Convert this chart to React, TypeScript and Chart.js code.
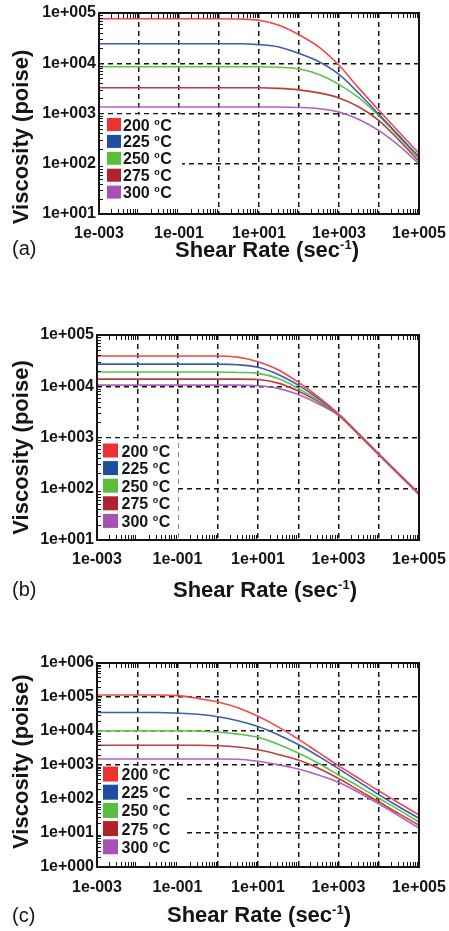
import React, { useEffect, useRef } from "react";
import { Chart, registerables } from "chart.js";

Chart.register(...registerables);

// ---------- data ----------
const shearRates = [0.001, 0.00316, 0.01, 0.0316, 0.1, 0.316, 1, 3.16, 10, 31.6, 100, 316, 1000, 3160, 10000, 31600, 100000];
const tempLabels = ["200", "225", "250", "275", "300"];
const lineColors = ["#f24848", "#3d5db0", "#5cc24a", "#c03c3c", "#b062c0"];
const boxColors = ["#ee3232", "#1d4ea2", "#58be3c", "#b0222c", "#a452b4"];

const xTickValues = [0.001, 0.01, 0.1, 1, 10, 100, 1000, 10000, 100000];
const xTickLabels = ["1e-003", "", "1e-001", "", "1e+001", "", "1e+003", "", "1e+005"];

const yTickValuesAB = [10, 100, 1000, 10000, 100000];
const yTickLabelsAB = ["1e+001", "1e+002", "1e+003", "1e+004", "1e+005"];
const yTickValuesC = [1, 10, 100, 1000, 10000, 100000, 1000000];
const yTickLabelsC = ["1e+000", "1e+001", "1e+002", "1e+003", "1e+004", "1e+005", "1e+006"];

// panel (a)
const a200 = [77000, 77000, 77000, 77000, 77000, 77000, 77000, 76000, 72000, 57000, 37000, 21000, 9100, 3160, 1150, 427, 162];
const a225 = [24500, 24500, 24500, 24500, 24500, 24500, 24500, 24500, 23500, 21000, 15600, 10700, 6000, 2500, 955, 363, 138];
const a250 = [8500, 8500, 8500, 8500, 8500, 8500, 8500, 8500, 8500, 8300, 7700, 6000, 3800, 2040, 890, 340, 126];
const a275 = [3250, 3250, 3250, 3250, 3250, 3250, 3250, 3250, 3250, 3160, 2950, 2570, 2040, 1350, 725, 295, 112];
const a300 = [1350, 1350, 1350, 1350, 1350, 1350, 1350, 1350, 1350, 1350, 1320, 1245, 1070, 760, 457, 229, 100];

// panel (b)
const b200 = [39000, 39000, 39000, 39000, 39000, 39000, 39000, 37000, 30000, 21000, 12000, 6200, 2900, 1190, 480, 197, 81];
const b225 = [27000, 27000, 27000, 27000, 27000, 27000, 27000, 26300, 23400, 17000, 10500, 5750, 2850, 1175, 475, 195, 80];
const b250 = [19000, 19000, 19000, 19000, 19000, 19000, 19000, 18600, 17800, 14100, 9100, 5250, 2800, 1160, 470, 193, 79];
const b275 = [13800, 13800, 13800, 13800, 13800, 13800, 13800, 13800, 13500, 11500, 8100, 5000, 2750, 1150, 465, 191, 78];
const b300 = [10500, 10500, 10500, 10500, 10500, 10500, 10500, 10500, 10200, 9100, 6900, 4570, 2700, 1130, 460, 189, 77];

// panel (c)
const c200 = [115000, 115000, 115000, 115000, 110000, 91000, 71000, 48000, 27000, 13200, 5750, 2350, 955, 407, 174, 76, 34];
const c225 = [35000, 35000, 35000, 35000, 33500, 31000, 26300, 20000, 13500, 7800, 4000, 1820, 780, 325, 135, 59, 27];
const c250 = [10200, 10200, 10200, 10200, 10200, 10000, 9300, 8100, 6500, 4100, 2240, 1120, 510, 235, 105, 48, 21];
const c275 = [3800, 3800, 3800, 3800, 3800, 3800, 3700, 3400, 2800, 2050, 1400, 800, 400, 182, 83, 37, 17];
const c300 = [1500, 1500, 1500, 1500, 1500, 1500, 1500, 1480, 1290, 1020, 760, 510, 310, 155, 72, 32, 14];

const FONT = "'Liberation Sans', Arial, Helvetica, sans-serif";
const INK = "#151515";

type PanelCfg = {
  letter: string;
  top: number;
  height: number;
  plotTop: number;
  plotBottom: number;
  plotLeft: number;
  yMin: number;
  yMax: number;
  yTicks: number[];
  yLabels: string[];
  series: number[][];
  legendWidth: number;
  legendRow0: number;
  legendStep: number;
  legendBoxX: number;
  legendBoxW: number;
  legendBoxH: number;
  legendTextX: number;
  yTitleCenter: number;
  xTitleX: number;
  xTitleBase: number;
  letterBase: number;
  xLabelLH: number;
};

const panels: PanelCfg[] = [
  {
    letter: "(a)", top: 0, height: 300, plotTop: 13, plotBottom: 214, plotLeft: 99,
    yMin: 10, yMax: 100000, yTicks: yTickValuesAB, yLabels: yTickLabelsAB,
    series: [a200, a225, a250, a275, a300],
    legendWidth: 82, legendRow0: 11, legendStep: 16.9, legendBoxX: 107, legendBoxW: 14, legendBoxH: 13, legendTextX: 123,
    yTitleCenter: 137, xTitleX: 175, xTitleBase: 257, letterBase: 255, xLabelLH: 2.4,
  },
  {
    letter: "(b)", top: 322, height: 300, plotTop: 13, plotBottom: 218, plotLeft: 97,
    yMin: 10, yMax: 100000, yTicks: yTickValuesAB, yLabels: yTickLabelsAB,
    series: [b200, b225, b250, b275, b300],
    legendWidth: 80, legendRow0: 13, legendStep: 17.6, legendBoxX: 103, legendBoxW: 15, legendBoxH: 14, legendTextX: 121.5,
    yTitleCenter: 125.5, xTitleX: 173, xTitleBase: 275, letterBase: 274, xLabelLH: 2.45,
  },
  {
    letter: "(c)", top: 650, height: 281, plotTop: 13, plotBottom: 217, plotLeft: 97,
    yMin: 1, yMax: 1000000, yTicks: yTickValuesC, yLabels: yTickLabelsC,
    series: [c200, c225, c250, c275, c300],
    legendWidth: 86, legendRow0: 9, legendStep: 18.2, legendBoxX: 103, legendBoxW: 15, legendBoxH: 15, legendTextX: 121.5,
    yTitleCenter: 111.7, xTitleX: 167, xTitleBase: 272, letterBase: 272, xLabelLH: 2.55,
  },
];

function makeDecor(cfg: PanelCfg) {
  return {
    id: "decor",
    afterDatasetsDraw(chart: any) {
      const { ctx, chartArea: ca, scales } = chart;
      const xs = scales.x;
      const ys = scales.y;
      ctx.save();

      // legend
      const lgTop = ys.getPixelForValue(1000);
      ctx.fillStyle = "#ffffff";
      ctx.fillRect(ca.left + 1, lgTop + 1, cfg.legendWidth, ca.bottom - lgTop - 1);
      chart.data.datasets.forEach((ds: any, i: number) => {
        const cy = lgTop + cfg.legendRow0 + i * cfg.legendStep;
        ctx.fillStyle = boxColors[i];
        ctx.fillRect(cfg.legendBoxX, cy - cfg.legendBoxH / 2, cfg.legendBoxW, cfg.legendBoxH);
        ctx.fillStyle = INK;
        ctx.textBaseline = "alphabetic";
        ctx.textAlign = "left";
        ctx.font = `bold 16px ${FONT}`;
        const base = cy + 6;
        const t1 = tempLabels[i] + " ";
        ctx.fillText(t1, cfg.legendTextX, base);
        let x = cfg.legendTextX + ctx.measureText(t1).width;
        ctx.font = `bold 9px ${FONT}`;
        ctx.fillText("o", x, base - 6);
        x += ctx.measureText("o").width + 0.5;
        ctx.font = `bold 16px ${FONT}`;
        ctx.fillText("C", x, base);
      });

      // minor ticks (inward) on top, bottom and left edges
      ctx.strokeStyle = INK;
      ctx.lineWidth = 1;
      ctx.setLineDash([]);
      ctx.beginPath();
      for (let d = -3; d < 5; d++) {
        for (let m = 2; m <= 9; m++) {
          const px = Math.round(xs.getPixelForValue(m * Math.pow(10, d))) + 0.5;
          ctx.moveTo(px, ca.top);
          ctx.lineTo(px, ca.top + 5);
          ctx.moveTo(px, ca.bottom);
          ctx.lineTo(px, ca.bottom - 5);
        }
      }
      const dMin = Math.round(Math.log10(cfg.yMin));
      const dMax = Math.round(Math.log10(cfg.yMax));
      for (let d = dMin; d < dMax; d++) {
        for (let m = 2; m <= 9; m++) {
          const py = Math.round(ys.getPixelForValue(m * Math.pow(10, d))) + 0.5;
          ctx.moveTo(ca.left, py);
          ctx.lineTo(ca.left + 4, py);
        }
      }
      ctx.stroke();

      // frame
      ctx.lineWidth = 2;
      ctx.strokeStyle = INK;
      ctx.strokeRect(ca.left, ca.top, ca.right - ca.left, ca.bottom - ca.top);
      ctx.restore();
    },
    afterDraw(chart: any) {
      const { ctx } = chart;
      ctx.save();
      ctx.fillStyle = INK;
      // y title
      ctx.save();
      ctx.translate(28, cfg.yTitleCenter);
      ctx.rotate(-Math.PI / 2);
      ctx.textAlign = "center";
      ctx.textBaseline = "alphabetic";
      ctx.font = `bold 22px ${FONT}`;
      ctx.fillText("Viscosity (poise)", 0, 0);
      ctx.restore();

      // x title with superscript
      ctx.textAlign = "left";
      ctx.textBaseline = "alphabetic";
      ctx.font = `bold 22px ${FONT}`;
      const p1 = "Shear Rate (sec";
      let x = cfg.xTitleX;
      ctx.fillText(p1, x, cfg.xTitleBase);
      x += ctx.measureText(p1).width;
      ctx.font = `bold 13px ${FONT}`;
      ctx.fillText("-1", x, cfg.xTitleBase - 8);
      x += ctx.measureText("-1").width;
      ctx.font = `bold 22px ${FONT}`;
      ctx.fillText(")", x, cfg.xTitleBase);

      // panel letter
      ctx.font = `20px ${FONT}`;
      ctx.fillText(cfg.letter, 12, cfg.letterBase);
      ctx.restore();
    },
  };
}

function Panel({ cfg }: { cfg: PanelCfg }) {
  const ref = useRef<HTMLCanvasElement>(null);
  useEffect(() => {
    if (!ref.current) return;
    const chart = new Chart(ref.current, {
      type: "line",
      data: {
        datasets: cfg.series.map((vals, i) => ({
          label: tempLabels[i] + " °C",
          data: shearRates.map((x, j) => ({ x, y: vals[j] })),
          borderColor: lineColors[i],
          backgroundColor: lineColors[i],
          borderWidth: 1.6,
          pointRadius: 0,
          tension: 0.4,
          cubicInterpolationMode: "monotone",
          fill: false,
        })),
      },
      options: {
        responsive: false,
        animation: false,
        events: [],
        layout: { padding: { top: cfg.plotTop, right: 30, left: 0, bottom: 0 } },
        plugins: {
          legend: { display: false },
          tooltip: { enabled: false },
          title: { display: false },
        },
        scales: {
          x: {
            type: "logarithmic",
            min: 0.001,
            max: 100000,
            afterBuildTicks: (s: any) => {
              s.ticks = xTickValues.map((v) => ({ value: v }));
            },
            afterFit: (s: any) => {
              s.height = cfg.height - cfg.plotBottom;
            },
            ticks: {
              autoSkip: false,
              maxRotation: 0,
              minRotation: 0,
              padding: 0,
              color: INK,
              font: { family: FONT, size: 16, weight: "bold", lineHeight: cfg.xLabelLH },
              callback: (_v: any, i: number) => xTickLabels[i],
            },
            grid: { color: INK, lineWidth: 1.5, drawTicks: false },
            border: { display: false, dash: [5, 4] },
          },
          y: {
            type: "logarithmic",
            min: cfg.yMin,
            max: cfg.yMax,
            afterBuildTicks: (s: any) => {
              s.ticks = cfg.yTicks.map((v) => ({ value: v }));
            },
            afterFit: (s: any) => {
              s.width = cfg.plotLeft;
            },
            ticks: {
              autoSkip: false,
              padding: 3,
              color: INK,
              font: { family: FONT, size: 16, weight: "bold" },
              callback: (_v: any, i: number) => cfg.yLabels[i],
            },
            grid: { color: INK, lineWidth: 1.5, drawTicks: false },
            border: { display: false, dash: [5, 4] },
          },
        },
      } as any,
      plugins: [makeDecor(cfg)],
    });
    return () => chart.destroy();
  }, [cfg]);
  return (
    <canvas
      ref={ref}
      width={449}
      height={cfg.height}
      style={{ position: "absolute", left: 0, top: cfg.top, width: 449, height: cfg.height }}
    />
  );
}

export default function App() {
  return (
    <div style={{ position: "absolute", left: 0, top: 0, width: 449, height: 931, background: "#fff" }}>
      {panels.map((p) => (
        <Panel key={p.letter} cfg={p} />
      ))}
    </div>
  );
}
